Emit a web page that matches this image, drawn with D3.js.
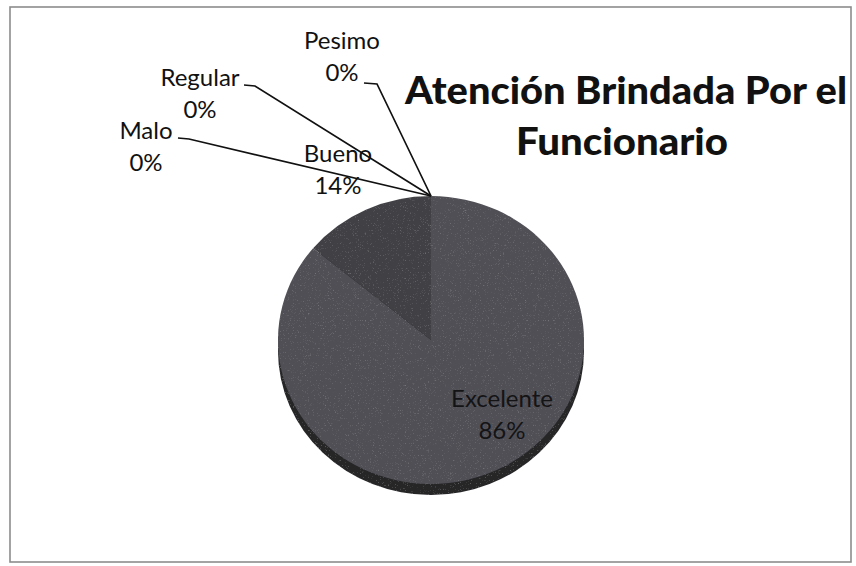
<!DOCTYPE html>
<html>
<head>
<meta charset="utf-8">
<script src="https://cdn.jsdelivr.net/npm/d3@7"></script>
<style>
  body { margin: 0; background: #fff; }
  svg { display: block; }
</style>
</head>
<body>
<div id="chart"></div>
<script>
// chart data
const categories = ["Excelente", "Bueno", "Malo", "Regular", "Pesimo"];
const values = [86, 14, 0, 0, 0];
const titleLines = ["Atención Brindada Por el", "Funcionario"];

// svg dimensions
const w = 856;
const h = 566;

// pie geometry (slightly tilted, like the excel 3d pie)
const cx = 431;
const cy = 340;
const rx = 153;
const ry = 144;
const depth = 11;

// label placement: centre x, first baseline, and leader stub (x1, x2, y)
const labelLayout = {
  Excelente: { x: 502, y: 407 },
  Bueno: { x: 338, y: 162 },
  Malo: { x: 146, y: 139, stub: [178, 189, 138] },
  Regular: { x: 200, y: 86, stub: [244, 255, 85] },
  Pesimo: { x: 342, y: 49, stub: [364, 377, 83] }
};

// title lines: centre x, baseline, width
const titleLayout = [
  { x: 626, y: 104, len: 442 },
  { x: 622, y: 155, len: 212 }
];

const colors = d3
  .scaleOrdinal()
  .domain(categories)
  .range(["#505055", "#404045", "#404045", "#404045", "#404045"]);

const svg = d3
  .select("#chart")
  .append("svg")
  .attr("width", w)
  .attr("height", h);

// scan grain
const defs = svg.append("defs");
const grain = defs.append("filter").attr("id", "grain");
grain
  .append("feTurbulence")
  .attr("type", "fractalNoise")
  .attr("baseFrequency", 1.4)
  .attr("numOctaves", 1)
  .attr("seed", 3)
  .attr("result", "noise");
grain
  .append("feColorMatrix")
  .attr("in", "noise")
  .attr("type", "matrix")
  .attr("values", "0 0 0 0 0.5  0 0 0 0 0.5  0 0 0 0 0.52  0 0 0 1.1 -0.68")
  .attr("result", "dots");
grain
  .append("feComposite")
  .attr("in", "dots")
  .attr("in2", "SourceGraphic")
  .attr("operator", "in")
  .attr("result", "dotsIn");
grain
  .append("feMerge")
  .selectAll("feMergeNode")
  .data(["SourceGraphic", "dotsIn"])
  .enter()
  .append("feMergeNode")
  .attr("in", (d) => d);

// chart border
svg
  .append("rect")
  .attr("x", 10)
  .attr("y", 7)
  .attr("width", 841)
  .attr("height", 555)
  .attr("fill", "none")
  .attr("stroke", "#8c8c8c")
  .attr("stroke-width", 1.6);

// pie layout, clockwise from 12 o'clock in category order
const pie = d3.pie().sort(null).value((d) => d.value);
const arcs = pie(categories.map((c, i) => ({ name: c, value: values[i] })));

const arc = d3.arc().innerRadius(0).outerRadius(rx);

const pieG = svg.append("g").attr("filter", "url(#grain)");

// side of the pie
pieG
  .append("ellipse")
  .attr("cx", cx)
  .attr("cy", cy + depth)
  .attr("rx", rx)
  .attr("ry", ry)
  .attr("fill", "#252528");

// top face
pieG
  .append("g")
  .attr("transform", `translate(${cx},${cy}) scale(1,${ry / rx})`)
  .selectAll("path")
  .data(arcs.filter((d) => d.value > 0))
  .enter()
  .append("path")
  .attr("d", arc)
  .attr("fill", (d) => colors(d.data.name));

// point on the rim for a given angle
const rimPoint = (a) => [cx + rx * Math.sin(a), cy - ry * Math.cos(a)];

const pct = d3.format(".0%");
const total = d3.sum(values);

// labels
arcs.forEach((d) => {
  const lay = labelLayout[d.data.name];
  const inside = d.data.name === "Excelente";

  const t = svg
    .append("text")
    .attr("x", lay.x)
    .attr("y", lay.y)
    .attr("text-anchor", "middle")
    .style("font-family", "Lato, 'Open Sans', sans-serif")
    .style("font-size", "24px")
    .attr("fill", inside ? "#141416" : "#111");

  t.append("tspan").attr("x", lay.x).text(d.data.name);
  t.append("tspan")
    .attr("x", lay.x)
    .attr("dy", 32)
    .text(pct(d.data.value / total));

  // leader lines for the empty slices
  if (lay.stub) {
    const p = rimPoint(d.endAngle);
    svg
      .append("path")
      .attr(
        "d",
        d3.line()([
          [lay.stub[0], lay.stub[2]],
          [lay.stub[1], lay.stub[2] + 1],
          p
        ])
      )
      .attr("fill", "none")
      .attr("stroke", "#111")
      .attr("stroke-width", 1.7);
  }
});

// title
svg
  .selectAll(".title")
  .data(titleLines)
  .enter()
  .append("text")
  .attr("class", "title")
  .attr("x", (d, i) => titleLayout[i].x)
  .attr("y", (d, i) => titleLayout[i].y)
  .attr("text-anchor", "middle")
  .attr("textLength", (d, i) => titleLayout[i].len)
  .attr("lengthAdjust", "spacingAndGlyphs")
  .style("font-family", "Lato, 'Open Sans', sans-serif")
  .style("font-weight", "900")
  .style("font-size", "38px")
  .attr("fill", "#111")
  .text((d) => d);
</script>
</body>
</html>
